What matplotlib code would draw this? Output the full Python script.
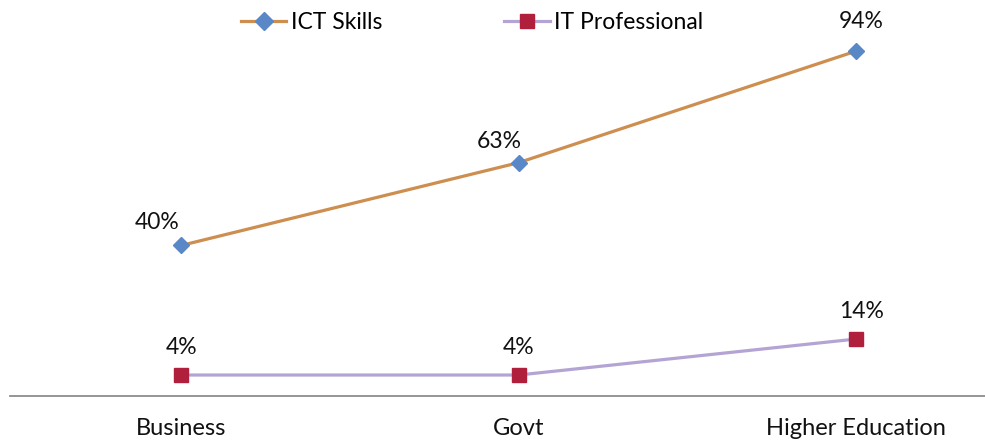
import matplotlib.pyplot as plt
from matplotlib.lines import Line2D

categories = ['Business', 'Govt', 'Higher Education']
ict_skills = [40, 63, 94]
it_professional = [4, 4, 14]

plt.rcParams['font.family'] = ['Lato', 'DejaVu Sans']

fig = plt.figure(figsize=(9.85, 4.47), dpi=100)
ax = fig.add_axes([10 / 985, 51 / 447, 975 / 985, 396 / 447])

x = list(range(len(categories)))
ict_color = '#CD8E4F'
itp_color = '#B4A4D4'

ax.plot(x, ict_skills, color=ict_color, lw=2.3, marker='D', ms=8,
        mfc='#5A87C6', mec='#5A87C6', zorder=3)
ax.plot(x, it_professional, color=itp_color, lw=2.3, marker='s', ms=10,
        mfc='#B01F3B', mec='#B01F3B', zorder=3)

# value labels; the lower ICT points sit up and to the left
ict_offsets = [(-17, 16.5), (-14, 15), (4, 21)]
itp_offsets = [(0, 19.5), (0, 19.5), (4, 20)]
for xi, v, off in zip(x, ict_skills, ict_offsets):
    ax.annotate(f'{v}%', (xi, v), xytext=off, textcoords='offset points',
                ha='center', va='center', fontsize=16.5, color='#111111')
for xi, v, off in zip(x, it_professional, itp_offsets):
    ax.annotate(f'{v}%', (xi, v), xytext=off, textcoords='offset points',
                ha='center', va='center', fontsize=16.5, color='#111111')

ax.set_xlim(-0.507, 2.382)
ax.set_ylim(-1.83, 108.2)
ax.set_xticks(x)
ax.set_xticklabels(categories, fontsize=17, color='#111111')
ax.set_yticks([])
ax.tick_params(axis='x', length=0, pad=16)
for side in ['top', 'right', 'left']:
    ax.spines[side].set_visible(False)
ax.spines['bottom'].set_color('#8C8C8C')
ax.spines['bottom'].set_linewidth(1.3)

handles = [
    Line2D([], [], color=ict_color, lw=2.3, marker='D', ms=9,
           mfc='#5A87C6', mec='#5A87C6'),
    Line2D([], [], color=itp_color, lw=2.3, marker='s', ms=10,
           mfc='#B01F3B', mec='#B01F3B'),
]
fig.legend(handles, ['ICT Skills', 'IT Professional'], loc='upper center',
           bbox_to_anchor=(472 / 985, 1.02), ncol=2, frameon=False,
           fontsize=16.5, handlelength=2.0, handletextpad=0.2,
           columnspacing=5.3)

fig.savefig('out.png', dpi=100)
